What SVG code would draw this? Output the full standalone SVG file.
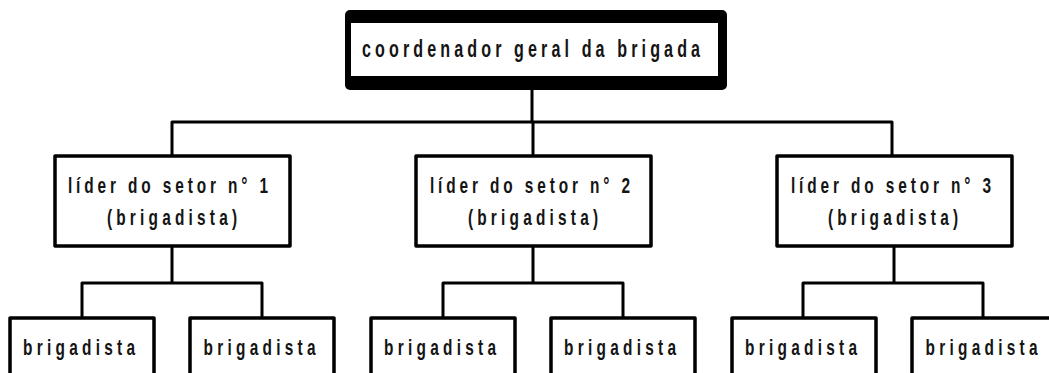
<svg xmlns="http://www.w3.org/2000/svg" width="1049" height="373" viewBox="0 0 1049 373">
<style>
.box{fill:#fff;stroke:#000;stroke-width:3.5;stroke-linejoin:round}
.ln{fill:none;stroke:#000;stroke-width:3;stroke-linejoin:round}
text{font-family:"Liberation Sans",Arial,sans-serif;font-weight:bold;font-size:22px;fill:#141414;text-anchor:middle}
.t{font-size:23px}
</style>
<rect width="1049" height="373" fill="#fff"/>
<g id="connectors">
<path class="ln" d="M532 90V122M172 156V122H892V156M533 122V156"/>
<path class="ln" d="M172 247V283M82 318V283H262V318"/>
<path class="ln" d="M533 247V283M443 318V283H623V318"/>
<path class="ln" d="M894 247V283M803 318V283H983V318"/>
</g>
<g id="coordenador">
<rect x="345" y="10" width="382" height="80" rx="5" fill="#000"/>
<rect x="351" y="23" width="367" height="53" fill="#fff"/>
<text class="t" transform="translate(531 57) scale(0.7 1)" textLength="483" lengthAdjust="spacing">coordenador geral da brigada</text>
</g>
<g id="lider1">
<rect class="box" x="55" y="156" width="235" height="90"/>
<text transform="translate(168 193) scale(0.7 1)" textLength="286" lengthAdjust="spacing">líder do setor n° 1</text>
<text transform="translate(172 225) scale(0.7 1)" textLength="186" lengthAdjust="spacing">(brigadista)</text>
</g>
<g id="lider2">
<rect class="box" x="416" y="156" width="235" height="90"/>
<text transform="translate(530 193) scale(0.7 1)" textLength="286" lengthAdjust="spacing">líder do setor n° 2</text>
<text transform="translate(533 225) scale(0.7 1)" textLength="186" lengthAdjust="spacing">(brigadista)</text>
</g>
<g id="lider3">
<rect class="box" x="777" y="156" width="235" height="90"/>
<text transform="translate(891 193) scale(0.7 1)" textLength="286" lengthAdjust="spacing">líder do setor n° 3</text>
<text transform="translate(893 225) scale(0.7 1)" textLength="186" lengthAdjust="spacing">(brigadista)</text>
</g>
<g id="brig1a">
<rect class="box" x="10" y="318" width="144" height="70"/>
<text transform="translate(79 355) scale(0.7 1)" textLength="160" lengthAdjust="spacing">brigadista</text>
</g>
<g id="brig1b">
<rect class="box" x="190" y="318" width="144" height="70"/>
<text transform="translate(259.5 355) scale(0.7 1)" textLength="160" lengthAdjust="spacing">brigadista</text>
</g>
<g id="brig2a">
<rect class="box" x="371" y="318" width="144" height="70"/>
<text transform="translate(440 355) scale(0.7 1)" textLength="160" lengthAdjust="spacing">brigadista</text>
</g>
<g id="brig2b">
<rect class="box" x="551" y="318" width="144" height="70"/>
<text transform="translate(620 355) scale(0.7 1)" textLength="160" lengthAdjust="spacing">brigadista</text>
</g>
<g id="brig3a">
<rect class="box" x="732" y="318" width="144" height="70"/>
<text transform="translate(801 355) scale(0.7 1)" textLength="160" lengthAdjust="spacing">brigadista</text>
</g>
<g id="brig3b">
<rect class="box" x="912" y="318" width="144" height="70"/>
<text transform="translate(981.5 355) scale(0.7 1)" textLength="160" lengthAdjust="spacing">brigadista</text>
</g>
</svg>
